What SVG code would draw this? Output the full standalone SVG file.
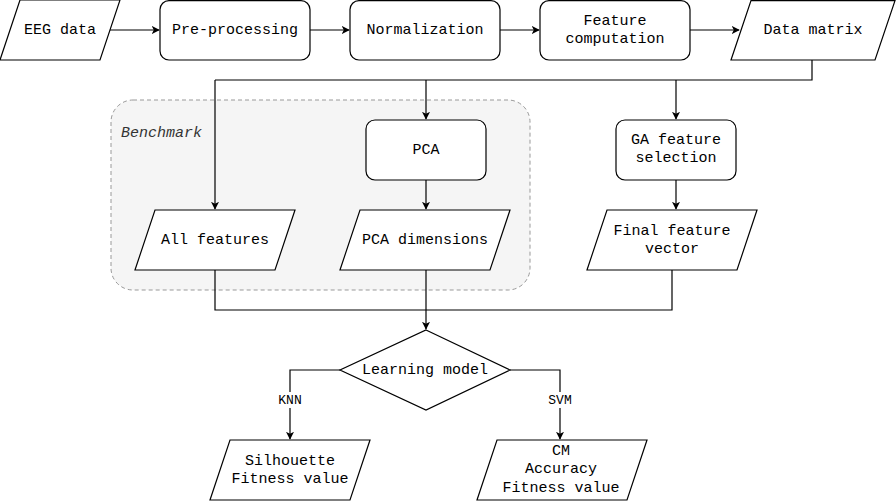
<svg xmlns="http://www.w3.org/2000/svg" width="896" height="501" viewBox="0 0 896 501">
<defs>
<marker id="ah" viewBox="0 0 10 10" refX="9" refY="5" markerWidth="8" markerHeight="8" markerUnits="userSpaceOnUse" orient="auto">
<path d="M0,0 L10,5 L0,10 L2.5,5 Z" fill="#000"/>
</marker>
</defs>
<style>
.n{fill:#fff;stroke:#000;stroke-width:1.2}
.t{font-family:"Liberation Mono","Courier New",monospace;font-size:15px;fill:#000;text-anchor:middle;dominant-baseline:central}
.c{fill:none;stroke:#000;stroke-width:1.2}
.a{marker-end:url(#ah)}
</style>
<rect width="896" height="501" fill="#fff"/>
<g id="benchmark">
<rect x="111" y="100" width="419" height="190" rx="22" ry="22" fill="#f5f5f5" stroke="#999" stroke-width="1" stroke-dasharray="4,3"/>
<text x="121" y="133" class="t" style="text-anchor:start;font-style:italic;fill:#333">Benchmark</text>
</g>
<g id="connectors">
<path class="c a" d="M110,30 H159"/>
<path class="c a" d="M310,30 H349"/>
<path class="c a" d="M500,30 H539"/>
<path class="c a" d="M690,30 H739"/>
<path class="c" d="M812,60 V80 H215"/>
<path class="c a" d="M215,80 V209"/>
<path class="c a" d="M426,80 V119"/>
<path class="c a" d="M676,80 V119"/>
<path class="c a" d="M426,180 V209"/>
<path class="c a" d="M676,180 V209"/>
<path class="c" d="M215,270 V310 H672 V270"/>
<path class="c a" d="M426,270 V329"/>
<path class="c a" d="M340,370 H290 V439"/>
<path class="c a" d="M510,370 H560 V439"/>
<rect x="274" y="392" width="32" height="16" fill="#fff"/>
<text x="290" y="400" class="t" style="font-size:13px">KNN</text>
<rect x="544" y="392" width="32" height="16" fill="#fff"/>
<text x="560" y="400" class="t" style="font-size:13px">SVM</text>
</g>
<g id="eeg">
<path class="n" d="M20,0 H120 L100,60 H0 Z"/>
<text x="60" y="30" class="t">EEG data</text>
</g>
<g id="preprocessing">
<rect class="n" x="160" y="0.6" width="150" height="59.4" rx="9"/>
<text x="235" y="30" class="t">Pre-processing</text>
</g>
<g id="normalization">
<rect class="n" x="350" y="0.6" width="150" height="59.4" rx="9"/>
<text x="425" y="30" class="t">Normalization</text>
</g>
<g id="featurecomp">
<rect class="n" x="540" y="0.6" width="150" height="59.4" rx="9"/>
<text x="615" y="21" class="t">Feature</text>
<text x="615" y="39" class="t">computation</text>
</g>
<g id="datamatrix">
<path class="n" d="M751,0.6 H895 L875,60 H731 Z"/>
<text x="813" y="30" class="t">Data matrix</text>
</g>
<g id="pca">
<rect class="n" x="366" y="120" width="120" height="60" rx="9"/>
<text x="426" y="150" class="t">PCA</text>
</g>
<g id="allfeatures">
<path class="n" d="M155,210 H295 L275,270 H135 Z"/>
<text x="215" y="240" class="t">All features</text>
</g>
<g id="pcadims">
<path class="n" d="M360,210 H510 L490,270 H340 Z"/>
<text x="425" y="240" class="t">PCA dimensions</text>
</g>
<g id="ga">
<rect class="n" x="616" y="120" width="120" height="60" rx="9"/>
<text x="676" y="140" class="t">GA feature</text>
<text x="676" y="158" class="t">selection</text>
</g>
<g id="finalvector">
<path class="n" d="M607,210 H757 L737,270 H587 Z"/>
<text x="672" y="231" class="t">Final feature</text>
<text x="672" y="249" class="t">vector</text>
</g>
<g id="learning">
<path class="n" d="M426,330 L510,370 L426,410 L340,370 Z"/>
<text x="425" y="370" class="t">Learning model</text>
</g>
<g id="silhouette">
<path class="n" d="M230,440 H370 L350,500 H210 Z"/>
<text x="290" y="461" class="t">Silhouette</text>
<text x="290" y="479" class="t">Fitness value</text>
</g>
<g id="cm">
<path class="n" d="M497,440 H647 L627,500 H477 Z"/>
<text x="561" y="451" class="t">CM</text>
<text x="561" y="469" class="t">Accuracy</text>
<text x="561" y="488" class="t">Fitness value</text>
</g>
</svg>
